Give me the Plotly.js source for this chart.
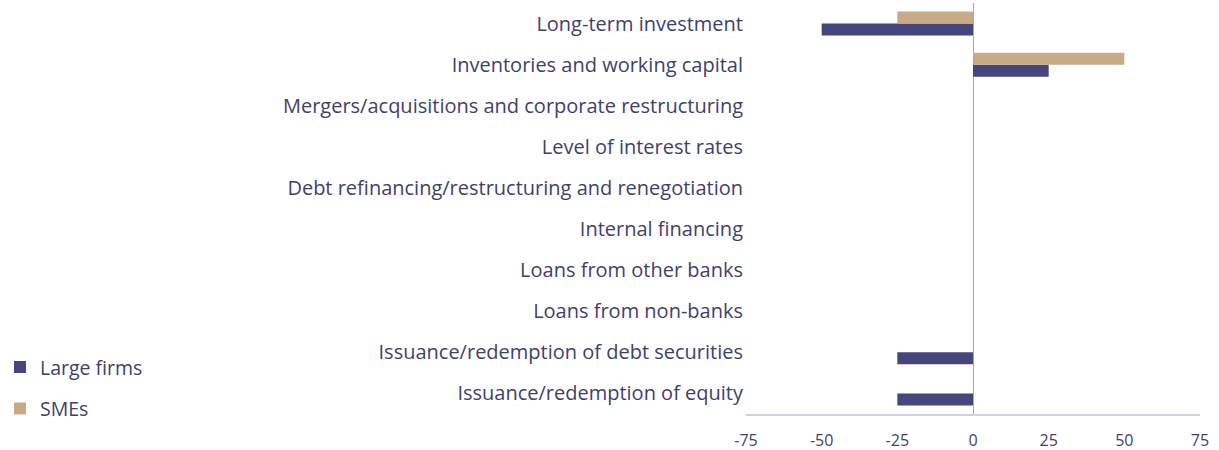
<!DOCTYPE html>
<html>
<head>
<meta charset="utf-8">
<script src="https://cdn.plot.ly/plotly-3.0.1.min.js"></script>
<style>html,body{margin:0;padding:0;background:#fff;}#chart{width:1219px;height:450px;}</style>
</head>
<body>
<div id="chart"></div>
<script>
// Categories, listed top to bottom as in the chart
const categories = [
  "Long-term investment",
  "Inventories and working capital",
  "Mergers/acquisitions and corporate restructuring",
  "Level of interest rates",
  "Debt refinancing/restructuring and renegotiation",
  "Internal financing",
  "Loans from other banks",
  "Loans from non-banks",
  "Issuance/redemption of debt securities",
  "Issuance/redemption of equity"
];
const largeFirms = [-50, 25, 0, 0, 0, 0, 0, 0, -25, -25];
const smes       = [-25, 50, 0, 0, 0, 0, 0, 0, 0, 0];
const xTicks = [-75, -50, -25, 0, 25, 50, 75];

const navy = "#46467e";
const tan = "#c9aa86";
const textColor = "#3f3f6e";

const traces = [
  {type: "bar", orientation: "h", name: "Large firms", y: categories, x: largeFirms,
   marker: {color: navy}, legendgroup: "a", hoverinfo: "x+y"},
  {type: "bar", orientation: "h", name: "SMEs", y: categories, x: smes,
   marker: {color: tan}, legendgroup: "b", hoverinfo: "x+y"}
];

const layout = {
  width: 1219, height: 450,
  margin: {l: 746, r: 19, t: 3, b: 36, pad: 0},
  paper_bgcolor: "#ffffff", plot_bgcolor: "#ffffff",
  font: {family: "Open Sans", color: textColor},
  barmode: "group",
  bargap: 0.415, bargroupgap: 0,
  showlegend: true,
  legend: {
    xref: "container", yref: "container",
    x: 0, xanchor: "left", y: 0.227, yanchor: "top",
    font: {size: 19.5, color: textColor, family: "Open Sans"},
    traceorder: "grouped", tracegroupgap: 13,
    itemwidth: 30, bgcolor: "rgba(0,0,0,0)"
  },
  xaxis: {
    range: [-75, 75], tickvals: xTicks, ticktext: xTicks.map(String),
    showgrid: false, zeroline: true, zerolinecolor: "#a2a2de", zerolinewidth: 1,
    showline: true, linecolor: "#d0d0ea", linewidth: 2,
    ticks: "", tickfont: {size: 16, color: textColor}, ticklabelstandoff: 11,
    fixedrange: true
  },
  yaxis: {
    type: "category", categoryorder: "array", categoryarray: categories.slice().reverse(),
    showgrid: false, zeroline: false, showline: false, ticks: "",
    tickfont: {size: 20, color: textColor}, ticklabelstandoff: 2,
    fixedrange: true
  }
};

Plotly.newPlot("chart", traces, layout, {displayModeBar: false, staticPlot: true});
</script>
</body>
</html>
